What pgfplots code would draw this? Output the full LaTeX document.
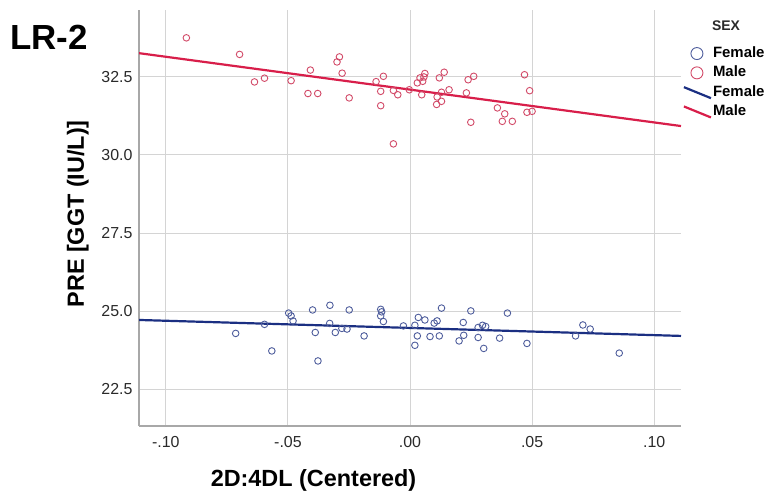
\documentclass[border=0pt]{standalone}
\usepackage{pgfplots}
\pgfplotsset{compat=1.18}
\usepackage{fontspec}
\setmainfont{Liberation Sans}

\definecolor{femcirc}{HTML}{4E5D9C}
\definecolor{malecirc}{HTML}{D24A68}
\definecolor{femline}{HTML}{1B2F82}
\definecolor{maleline}{HTML}{D81E4A}
\definecolor{gridgray}{HTML}{D4D4D4}
\definecolor{axisgray}{HTML}{A8A8A8}
\definecolor{ticktext}{HTML}{2A2A2A}

\pgfplotsset{
  markleg/.style={legend image code/.code={\draw[##1, mark size=6bp] plot coordinates {(13bp,0bp)};\path (0bp,0bp) (27bp,0bp);}},
  lineleg/.style={legend image code/.code={\draw[##1] (0bp,5bp) -- (27bp,-6bp);}},
}

\begin{document}
\begin{tikzpicture}
\useasboundingbox (0,0) rectangle (775bp,498bp);
\node[anchor=base west, inner sep=0pt, font=\bfseries\fontsize{35}{38}\selectfont] at (10bp,448bp) {LR-2};
\begin{axis}[
    at={(139bp,72bp)}, anchor=south west,
    scale only axis,
    width=542bp, height=416bp,
    xmin=-0.111, xmax=0.111,
    ymin=21.33, ymax=34.63,
    xtick={-0.1,-0.05,0,0.05,0.1},
    xticklabels={-.10,-.05,.00,.05,.10},
    ytick={22.5,25,27.5,30,32.5},
    yticklabel style={/pgf/number format/fixed, /pgf/number format/fixed zerofill, /pgf/number format/precision=1, xshift=-3bp},
    /pgf/number format/assume math mode=true,
    tick label style={font=\fontsize{16}{17}\selectfont, text=ticktext},
    xticklabel style={yshift=-7bp},
    major tick length=0pt,
    grid=major,
    major grid style={draw=gridgray, line width=0.9bp},
    axis x line*=bottom, axis y line*=left,
    axis line style={-, draw=axisgray, line width=1.3bp},
    xlabel={2D:4DL (Centered)},
    ylabel={PRE [GGT (IU/L)]},
    every axis x label/.style={at={(axis description cs:0.322,-0.132)}, anchor=center,
        font=\bfseries\fontsize{23.5}{25}\selectfont},
    every axis y label/.style={at={(axis description cs:-0.113,0.51)}, rotate=90, anchor=center,
        font=\bfseries\fontsize{23.5}{25}\selectfont},
    legend cell align=left,
    legend style={draw=none, fill=none, at={(axis description cs:1.003,0.915)}, anchor=north west,
        inner sep=0pt, row sep=3.3bp,
        nodes={inner sep=1bp, text height=11bp, text depth=3bp},
        font=\bfseries\fontsize{15}{16}\selectfont},
]
\addplot[only marks, mark=o, mark size=3.3bp, draw=femcirc, line width=0.9bp, markleg]
coordinates {
(-0.0714,24.29) (-0.0596,24.58) (-0.0566,23.73) (-0.0497,24.94) (-0.0487,24.85)
(-0.0479,24.69) (-0.0399,25.04) (-0.0388,24.32) (-0.0377,23.41) (-0.0328,25.19)
(-0.0329,24.61) (-0.0306,24.32) (-0.0279,24.45) (-0.0258,24.43) (-0.0249,25.04)
(-0.0188,24.21) (-0.0120,25.06) (-0.0116,24.98) (-0.0120,24.85) (-0.0109,24.67)
(-0.0027,24.53) (0.0020,24.55) (0.0030,24.21) (0.0020,23.91) (0.0034,24.80)
(0.0061,24.72) (0.0082,24.19) (0.0120,24.21) (0.0099,24.62) (0.0111,24.69)
(0.0129,25.10) (0.0218,24.64) (0.0220,24.23) (0.0201,24.05) (0.0249,25.01)
(0.0279,24.16) (0.0279,24.48) (0.0297,24.55) (0.0310,24.51) (0.0302,23.81)
(0.0367,24.14) (0.0399,24.94) (0.0479,23.97) (0.0678,24.21) (0.0708,24.56)
(0.0738,24.43) (0.0857,23.66)
};
\addlegendentry{Female}
\addplot[only marks, mark=o, mark size=3.3bp, draw=malecirc, line width=0.9bp, markleg]
coordinates {
(-0.0916,33.74) (-0.0698,33.21) (-0.0637,32.33) (-0.0596,32.45) (-0.0487,32.37)
(-0.0408,32.71) (-0.0418,31.96) (-0.0378,31.96) (-0.0299,32.97) (-0.0289,33.13)
(-0.0278,32.61) (-0.0249,31.82) (-0.0139,32.34) (-0.0109,32.51) (-0.0120,32.03)
(-0.0120,31.57) (-0.0068,32.06) (-0.0050,31.92) (-0.0068,30.35) (-0.0003,32.08)
(0.0030,32.30) (0.0041,32.46) (0.0052,32.35) (0.0061,32.60) (0.0057,32.49)
(0.0048,31.92) (0.0109,31.61) (0.0111,31.85) (0.0129,31.71) (0.0129,32.00)
(0.0120,32.46) (0.0140,32.64) (0.0160,32.08) (0.0231,31.98) (0.0238,32.40)
(0.0261,32.51) (0.0249,31.04) (0.0358,31.50) (0.0388,31.31) (0.0378,31.07)
(0.0419,31.07) (0.0469,32.56) (0.0490,32.05) (0.0479,31.36) (0.0500,31.39)
};
\addlegendentry{Male}
\addplot[no marks, draw=femline, line width=2.2bp, lineleg]
coordinates {(-0.111,24.72) (0.111,24.21)};
\addlegendentry{Female}
\addplot[no marks, draw=maleline, line width=2.2bp, lineleg]
coordinates {(-0.111,33.25) (0.111,30.92)};
\addlegendentry{Male}
\end{axis}
\node[anchor=center, font=\bfseries\fontsize{14}{15}\selectfont, text=ticktext] at (726bp,472bp) {SEX};
\end{tikzpicture}
\end{document}
